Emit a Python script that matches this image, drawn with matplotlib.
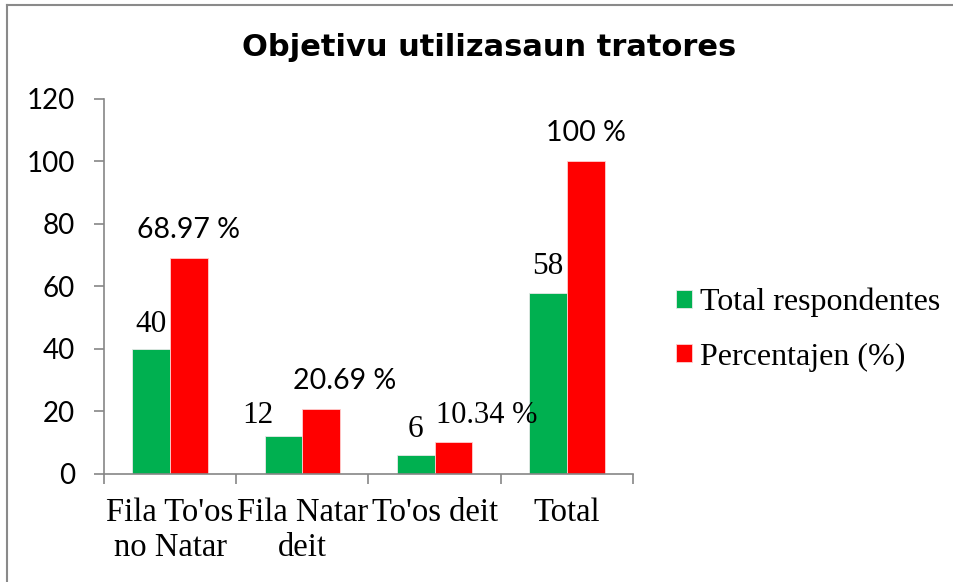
import matplotlib.pyplot as plt
from matplotlib.lines import Line2D
import numpy as np

# data
categories = ["Fila To'os\nno Natar", "Fila Natar\ndeit", "To'os deit", "Total"]
respondentes = [40, 12, 6, 58]
percentajen = [68.97, 20.69, 10.34, 100]
resp_labels = ["40", "12", "6", "58"]
pct_labels = ["68.97 %", "20.69 %", "10.34 %", "100 %"]

GREEN = "#00B050"
RED = "#FF0000"
GREY = "#868686"
SERIF = "Liberation Serif"
SANS = "Lato"

fig = plt.figure(figsize=(9.54, 5.82), dpi=100)
ax = fig.add_axes([0.109, 0.1856, 0.5545, 0.6443])

x = np.arange(len(categories))
w = 0.285
b1 = ax.bar(x - w / 2, respondentes, w, color=GREEN, edgecolor="#e8e8e8", linewidth=0.6,
            label="Total respondentes")
b2 = ax.bar(x + w / 2, percentajen, w, color=RED, edgecolor="#ffd0d0", linewidth=0.6,
            label="Percentajen (%)")

ax.set_xlim(-0.5, len(categories) - 0.5)
ax.set_ylim(0, 120)
ax.set_yticks(range(0, 121, 20))
ax.set_xticks(np.arange(-0.5, len(categories), 1.0))
ax.set_xticklabels([])
ax.set_xticks(x, minor=True)
ax.set_xticklabels(categories, minor=True, fontfamily=SERIF, fontsize=23.5, linespacing=1.2)
ax.tick_params(axis="x", which="minor", length=0, pad=17)
ax.tick_params(axis="x", which="major", length=7, color=GREY, width=1.2)
ax.tick_params(axis="y", length=7, color=GREY, width=1.2, pad=14, labelsize=20)
for t in ax.get_yticklabels():
    t.set_fontfamily(SANS)

for s in ["top", "right"]:
    ax.spines[s].set_visible(False)
for s in ["left", "bottom"]:
    ax.spines[s].set_color(GREY)
    ax.spines[s].set_linewidth(1.2)

# data labels (offsets in points: dx, dy)
resp_off = [(0, 12), (-18.5, 10), (0, 13), (0, 13.5)]
pct_off = [(0, 15), (17, 14.5), (24, 13.5), (0, 14.5)]
pct_fonts = [SANS, SANS, SERIF, SANS]
pct_sizes = [20.5, 20.5, 22, 20.5]
for i in range(len(categories)):
    ax.annotate(resp_labels[i], (x[i] - w / 2, respondentes[i]), xytext=resp_off[i],
                textcoords="offset points", ha="center", va="baseline",
                fontfamily=SERIF, fontsize=22.5)
    ax.annotate(pct_labels[i], (x[i] + w / 2, percentajen[i]), xytext=pct_off[i],
                textcoords="offset points", ha="center", va="baseline",
                fontfamily=pct_fonts[i], fontsize=pct_sizes[i])

leg = fig.legend(handles=[b1, b2], loc="upper left", bbox_to_anchor=(0.709, 0.506),
                 frameon=False, prop={"family": SERIF, "size": 23}, borderpad=0,
                 borderaxespad=0, handlelength=0.5, handleheight=0.5,
                 handletextpad=0.25, labelspacing=0.8)

fig.text(0.513, 0.904, "Objetivu utilizasaun tratores", ha="center", va="baseline",
         fontfamily="DejaVu Sans", fontweight="bold", fontsize=22)

# outer chart border (top and left edges visible)
fig.add_artist(Line2D([0.0073, 0.0073], [0, 0.991], color="#8a8a8a", lw=1.5,
                      transform=fig.transFigure))
fig.add_artist(Line2D([0.0073, 1], [0.991, 0.991], color="#8a8a8a", lw=1.5,
                      transform=fig.transFigure))

fig.savefig("out.png", dpi=100)
